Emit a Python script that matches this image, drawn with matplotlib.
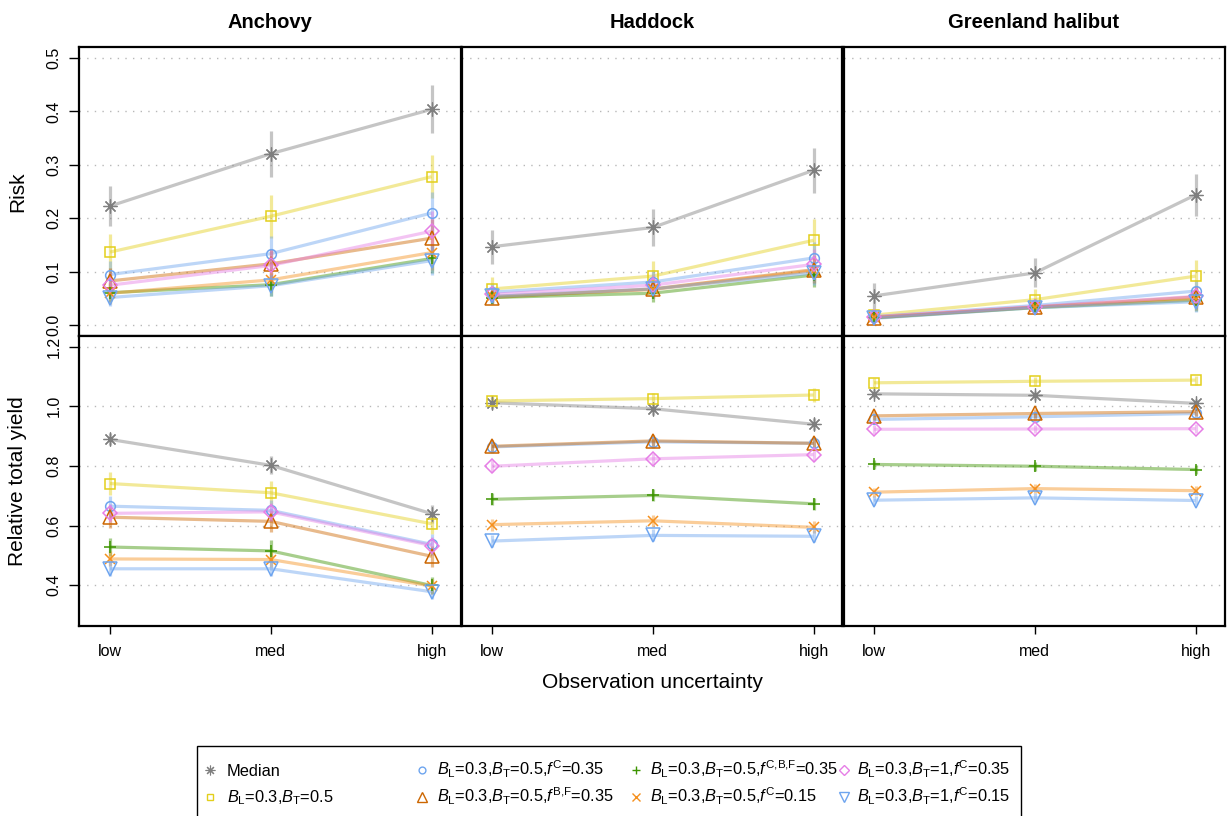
import matplotlib
matplotlib.use('Agg')
import matplotlib.pyplot as plt
from matplotlib.lines import Line2D
from matplotlib.patches import Rectangle
import numpy as np

plt.rcParams['font.family'] = ['Liberation Sans', 'DejaVu Sans']
plt.rcParams['mathtext.fontset'] = 'custom'
plt.rcParams['mathtext.rm'] = 'Liberation Sans'
plt.rcParams['mathtext.it'] = 'Liberation Sans:italic'
plt.rcParams['mathtext.bf'] = 'Liberation Sans:bold'

# ---------------- data ----------------
species = ['Anchovy', 'Haddock', 'Greenland halibut']
levels = ['low', 'med', 'high']
x_label = 'Observation uncertainty'
row_labels = ['Risk', 'Relative total yield']

series_labels = [
    'Median',
    r'$B_{\mathrm{L}}$=0.3,$B_{\mathrm{T}}$=0.5',
    r'$B_{\mathrm{L}}$=0.3,$B_{\mathrm{T}}$=0.5,$f^{\mathrm{C}}$=0.35',
    r'$B_{\mathrm{L}}$=0.3,$B_{\mathrm{T}}$=0.5,$f^{\mathrm{B{,}F}}$=0.35',
    r'$B_{\mathrm{L}}$=0.3,$B_{\mathrm{T}}$=0.5,$f^{\mathrm{C{,}B{,}F}}$=0.35',
    r'$B_{\mathrm{L}}$=0.3,$B_{\mathrm{T}}$=0.5,$f^{\mathrm{C}}$=0.15',
    r'$B_{\mathrm{L}}$=0.3,$B_{\mathrm{T}}$=1,$f^{\mathrm{C}}$=0.35',
    r'$B_{\mathrm{L}}$=0.3,$B_{\mathrm{T}}$=1,$f^{\mathrm{C}}$=0.15',
]

# rows: series (same order as labels), cols: low / med / high
risk_anchovy = [
    [0.223, 0.321, 0.404],
    [0.137, 0.204, 0.278],
    [0.095, 0.134, 0.210],
    [0.083, 0.115, 0.163],
    [0.061, 0.076, 0.125],
    [0.060, 0.085, 0.136],
    [0.075, 0.112, 0.176],
    [0.052, 0.074, 0.121],
]
risk_haddock = [
    [0.147, 0.183, 0.290],
    [0.068, 0.092, 0.159],
    [0.062, 0.081, 0.126],
    [0.052, 0.068, 0.104],
    [0.052, 0.060, 0.094],
    [0.054, 0.067, 0.102],
    [0.058, 0.075, 0.114],
    [0.054, 0.068, 0.098],
]
risk_halibut = [
    [0.055, 0.098, 0.244],
    [0.019, 0.048, 0.092],
    [0.016, 0.037, 0.064],
    [0.014, 0.034, 0.053],
    [0.014, 0.033, 0.047],
    [0.015, 0.034, 0.049],
    [0.016, 0.035, 0.054],
    [0.013, 0.033, 0.044],
]
yield_anchovy = [
    [0.889, 0.802, 0.640],
    [0.741, 0.710, 0.606],
    [0.665, 0.651, 0.537],
    [0.628, 0.614, 0.497],
    [0.528, 0.515, 0.399],
    [0.488, 0.486, 0.397],
    [0.641, 0.646, 0.533],
    [0.455, 0.455, 0.378],
]
yield_haddock = [
    [1.012, 0.992, 0.940],
    [1.018, 1.026, 1.038],
    [0.864, 0.881, 0.876],
    [0.866, 0.884, 0.876],
    [0.688, 0.701, 0.673],
    [0.603, 0.616, 0.594],
    [0.799, 0.824, 0.838],
    [0.548, 0.567, 0.564],
]
yield_halibut = [
    [1.042, 1.037, 1.010],
    [1.079, 1.084, 1.088],
    [0.956, 0.965, 0.976],
    [0.968, 0.976, 0.982],
    [0.805, 0.799, 0.788],
    [0.712, 0.724, 0.717],
    [0.923, 0.924, 0.925],
    [0.685, 0.693, 0.684],
]

# half-widths of the uncertainty bars
risk_anchovy_err = [
    [0.038, 0.043, 0.045],
    [0.033, 0.040, 0.040],
    [0.025, 0.033, 0.040],
    [0.025, 0.028, 0.035],
    [0.018, 0.022, 0.028],
    [0.020, 0.022, 0.032],
    [0.022, 0.030, 0.037],
    [0.016, 0.020, 0.027],
]
risk_haddock_err = [
    [0.032, 0.035, 0.042],
    [0.022, 0.028, 0.040],
    [0.018, 0.022, 0.030],
    [0.013, 0.017, 0.025],
    [0.012, 0.016, 0.022],
    [0.012, 0.016, 0.022],
    [0.015, 0.020, 0.028],
    [0.012, 0.016, 0.022],
]
risk_halibut_err = [
    [0.024, 0.027, 0.039],
    [0.012, 0.020, 0.030],
    [0.008, 0.012, 0.020],
    [0.008, 0.012, 0.020],
    [0.008, 0.012, 0.020],
    [0.008, 0.012, 0.020],
    [0.008, 0.012, 0.020],
    [0.008, 0.012, 0.020],
]
yield_anchovy_err = [
    [0.020, 0.030, 0.030],
    [0.040, 0.040, 0.035],
    [0.035, 0.035, 0.035],
    [0.035, 0.035, 0.035],
    [0.030, 0.035, 0.030],
    [0.025, 0.025, 0.025],
    [0.030, 0.030, 0.030],
    [0.025, 0.025, 0.025],
]
yield_haddock_err = [
    [0.020, 0.020, 0.020],
    [0.020, 0.020, 0.025],
    [0.020, 0.020, 0.020],
    [0.020, 0.020, 0.020],
    [0.020, 0.020, 0.020],
    [0.020, 0.020, 0.020],
    [0.020, 0.020, 0.020],
    [0.020, 0.020, 0.020],
]
yield_halibut_err = [
    [0.015, 0.015, 0.015],
    [0.015, 0.015, 0.015],
    [0.015, 0.015, 0.015],
    [0.015, 0.015, 0.015],
    [0.015, 0.015, 0.015],
    [0.015, 0.015, 0.015],
    [0.015, 0.015, 0.015],
    [0.015, 0.015, 0.015],
]

risk_ticks = [0.0, 0.1, 0.2, 0.3, 0.4, 0.5]
yield_ticks = [0.4, 0.6, 0.8, 1.0, 1.2]

# ---------------- styles ----------------
colors = ['#7f7f7f', '#e3cf1b', '#6ea5ef', '#cc6600',
          '#3d9400', '#f5901e', '#e67ee6', '#6ea5ef']
markers = [(8, 2, 0), 's', 'o', '^', '+', 'x', 'D', 'v']
msizes = [10.0, 7.0, 7.0, 10.0, 9.0, 7.5, 6.8, 10.0]
line_alpha = 0.45

W, H = 1227, 816
fig = plt.figure(figsize=(W / 100, H / 100), dpi=100)


def pos(l, t, w, h):
    return [l / W, 1 - (t + h) / H, w / W, h / H]


lefts = [79.5, 461.5, 843.5]
pw = 381
tops = [47.3, 336.0]
phs = [288.7, 289.7]

data = [[risk_anchovy, risk_haddock, risk_halibut],
        [yield_anchovy, yield_haddock, yield_halibut]]
errs = [[risk_anchovy_err, risk_haddock_err, risk_halibut_err],
        [yield_anchovy_err, yield_haddock_err, yield_halibut_err]]
ylims = [(-0.02, 0.52), (0.264, 1.236)]
yticks = [risk_ticks, yield_ticks]

xs = np.arange(1, len(levels) + 1)

for r in range(2):
    for c in range(3):
        ax = fig.add_axes(pos(lefts[c], tops[r], pw, phs[r]))
        ax.set_xlim(0.81, 3.18)
        ax.set_ylim(*ylims[r])
        ax.set_yticks(yticks[r])
        ax.set_yticklabels([f'{v:.1f}' for v in yticks[r]])
        ax.set_xticks(xs)
        ax.set_xticklabels(levels)
        ax.yaxis.grid(True, linestyle=(0, (1, 4.5)), color='#b8b8b8', lw=1.0)
        ax.set_axisbelow(True)
        for sp in ax.spines.values():
            sp.set_linewidth(1.6)
            sp.set_color('black')
        ax.tick_params(axis='y', direction='out', length=7.5, width=1.0,
                       labelsize=11.5, pad=5.5, labelrotation=90,
                       left=(c == 0), labelleft=(c == 0))
        ax.tick_params(axis='x', direction='out', length=6, width=1.0,
                       labelsize=11.5, pad=7.5,
                       bottom=(r == 1), labelbottom=(r == 1))
        for lab in ax.get_yticklabels():
            lab.set_va('center')
        vals = data[r][c]
        ers = errs[r][c]
        for i in range(len(series_labels)):
            y = np.array(vals[i])
            e = np.array(ers[i])
            ax.vlines(xs, y - e, y + e, color=colors[i], alpha=line_alpha,
                      lw=2.3, zorder=2)
            ax.plot(xs, y, color=colors[i], alpha=line_alpha, lw=2.3,
                    solid_capstyle='butt', zorder=2)
        for i in range(len(series_labels)):
            y = np.array(vals[i])
            ax.plot(xs, y, linestyle='none', marker=markers[i],
                    ms=msizes[i], mfc='none', mec=colors[i],
                    mew=(0.9 if i == 0 else 1.1), zorder=3)

# titles and axis labels
for c, name in enumerate(species):
    fig.text((lefts[c] + pw / 2) / W, 1 - 22 / H, name, ha='center',
             va='center', fontsize=14.5, fontweight='bold')
fig.text(18 / W, 1 - (tops[0] + phs[0] / 2) / H, row_labels[0], rotation=90,
         ha='center', va='center', fontsize=15)
fig.text(18 / W, 1 - (tops[1] + phs[1] / 2) / H, row_labels[1], rotation=90,
         ha='center', va='center', fontsize=15)
fig.text((lefts[1] + pw / 2) / W, 1 - 683 / H, x_label, ha='center',
         va='center', fontsize=15)

# legend (box runs off the bottom of the figure)
fig.add_artist(Rectangle((197 / W, -0.05), (1021 - 197) / W,
                         (1 - 746 / H) + 0.05, transform=fig.transFigure,
                         fill=False, ec='black', lw=1.0))
leg_marker_x = [210, 422, 636, 844]
leg_text_x = [227, 437, 650, 857]
leg_row_y = [770, 797]
for i, lab in enumerate(series_labels):
    col, row = divmod(i, 2)
    mx = leg_marker_x[col] / W
    my = 1 - leg_row_y[row] / H
    fig.add_artist(Line2D([mx], [my], transform=fig.transFigure,
                          linestyle='none', marker=markers[i],
                          ms=msizes[i] * 0.7, mfc='none', mec=colors[i],
                          mew=(0.8 if i == 0 else 1.0)))
    fig.text(leg_text_x[col] / W, 1 - (leg_row_y[row] + 5.5) / H, lab,
             ha='left', va='baseline', fontsize=11.8)

fig.savefig('out.png', dpi=100)
